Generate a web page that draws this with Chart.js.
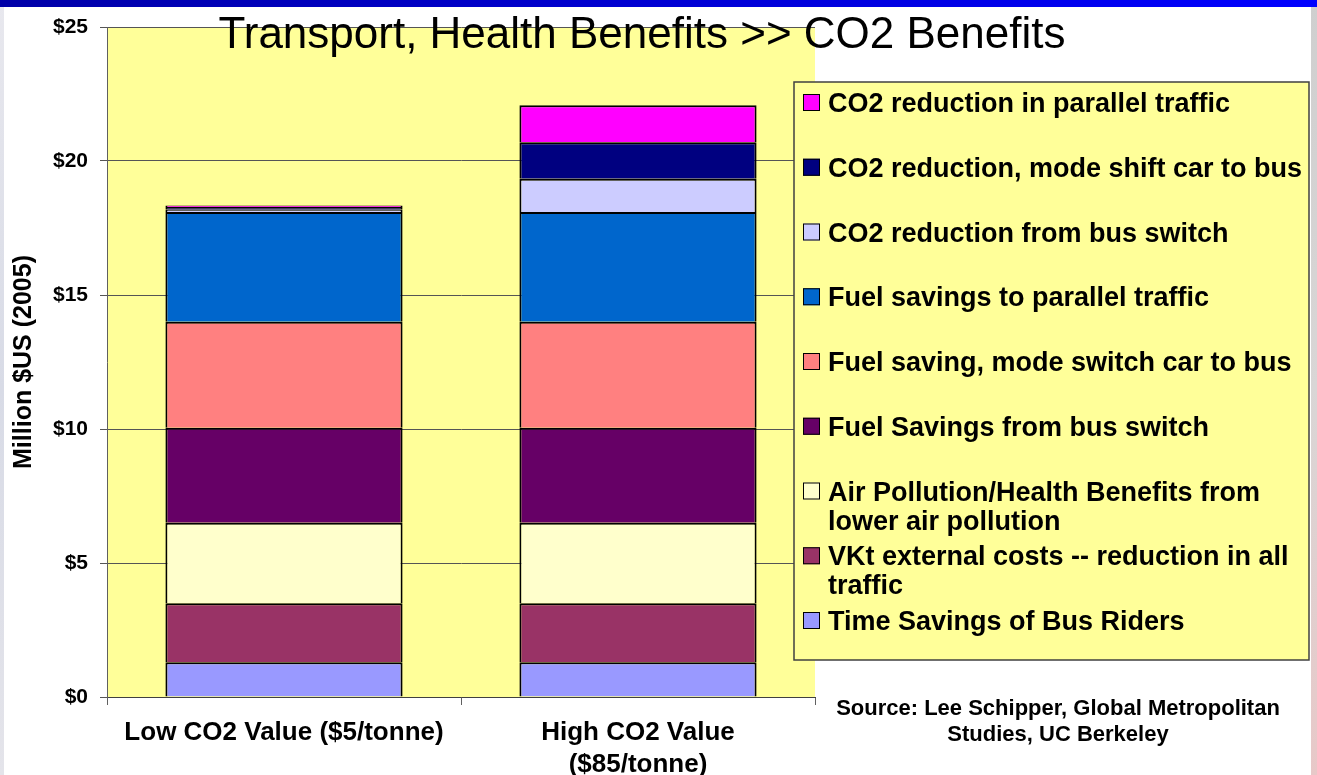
<!DOCTYPE html>
<html>
<head>
<meta charset="utf-8">
<script src="https://cdn.jsdelivr.net/npm/chart.js@4.4.1/dist/chart.umd.min.js"></script>
<style>
  html, body { margin: 0; padding: 0; background: #fff; }
  #wrap { width: 1317px; height: 775px; position: relative; }
</style>
</head>
<body>
<div id="wrap"><canvas id="myChart"></canvas></div>
<script>
// categories (x axis)
const categories = [["Low CO2 Value ($5/tonne)"], ["High CO2 Value", "($85/tonne)"]];

// series, bottom of the stack first
const seriesNames = [
  "Time Savings of Bus Riders",
  "VKt external costs -- reduction in all traffic",
  "Air Pollution/Health Benefits from lower air pollution",
  "Fuel Savings from bus switch",
  "Fuel saving, mode switch car to bus",
  "Fuel savings to parallel traffic",
  "CO2 reduction from bus switch",
  "CO2 reduction, mode shift car to bus",
  "CO2 reduction in parallel traffic"
];
const timeSavings      = [1.3, 1.3];
const vktCosts         = [2.2, 2.2];
const airPollution     = [3.0, 3.0];
const fuelBusSwitch    = [3.55, 3.55];
const fuelModeSwitch   = [3.95, 3.95];
const fuelParallel     = [4.1, 4.1];
const co2BusSwitch     = [0.08, 1.24];
const co2ModeShift     = [0.1, 1.36];
const co2Parallel      = [0.06, 1.38];
const seriesValues = [timeSavings, vktCosts, airPollution, fuelBusSwitch, fuelModeSwitch,
                      fuelParallel, co2BusSwitch, co2ModeShift, co2Parallel];
const seriesColors = ["#9999ff", "#993366", "#ffffcc", "#660066", "#ff8080",
                      "#0066cc", "#ccccff", "#000080", "#ff00ff"];

const yTickLabels = ["$0", "$5", "$10", "$15", "$20", "$25"];
const yTitle = "Million $US (2005)";
const chartTitle = "Transport, Health Benefits >> CO2 Benefits";
const sourceLines = ["Source: Lee Schipper, Global Metropolitan", "Studies, UC Berkeley"];

const FONT = '"Liberation Sans", Arial, sans-serif';

// slide background, yellow plot area, title, legend box, source note
const slidePlugin = {
  id: 'slide',
  beforeDraw(chart) {
    const c = chart.ctx, a = chart.chartArea;
    c.save();
    c.fillStyle = '#fff';
    c.fillRect(0, 0, chart.width, chart.height);
    // blue band on top
    let g = c.createLinearGradient(0, 0, chart.width, 0);
    g.addColorStop(0, '#0000a8');
    g.addColorStop(1, '#0000ff');
    c.fillStyle = g;
    c.fillRect(0, 0, chart.width, 7);
    // edges
    g = c.createLinearGradient(0, 0, 0, chart.height);
    g.addColorStop(0, '#e8e8ee');
    g.addColorStop(0.5, '#d8dbe6');
    g.addColorStop(1, '#e4e4ea');
    c.fillStyle = g;
    c.fillRect(0, 7, 4, chart.height);
    g = c.createLinearGradient(0, 0, 0, chart.height);
    g.addColorStop(0, '#cfcfcf');
    g.addColorStop(0.5, '#d9d6d6');
    g.addColorStop(1, '#e8c8c8');
    c.fillStyle = g;
    c.fillRect(1311, 7, 6, chart.height);
    // plot area
    c.fillStyle = '#ffff99';
    c.fillRect(a.left, a.top, a.right - a.left, a.bottom - a.top);
    c.restore();
  },
  afterDraw(chart) {
    const c = chart.ctx;
    c.save();
    // title
    c.fillStyle = '#000';
    c.font = '44px ' + FONT;
    c.textAlign = 'center';
    c.textBaseline = 'alphabetic';
    c.fillText(chartTitle, 642, 48);

    // legend
    const bx = 794, by = 82, bw = 515, bh = 578;
    c.fillStyle = '#ffff99';
    c.fillRect(bx, by, bw, bh);
    c.strokeStyle = '#404040';
    c.lineWidth = 1.5;
    c.strokeRect(bx, by, bw, bh);
    c.font = 'bold 27px ' + FONT;
    c.textAlign = 'left';
    const sets = chart.data.datasets.slice().reverse();
    sets.forEach((ds, i) => {
      const base = 112 + i * 64.75;
      c.fillStyle = ds.backgroundColor;
      c.fillRect(803, base - 18, 17, 17);
      c.strokeStyle = '#000';
      c.lineWidth = 1;
      c.strokeRect(803.5, base - 17.5, 16, 16);
      // wrap
      const words = ds.label.split(' ');
      const lines = [];
      let cur = '';
      words.forEach(w => {
        const t = cur ? cur + ' ' + w : w;
        if (c.measureText(t).width > 480 && cur) { lines.push(cur); cur = w; }
        else cur = t;
      });
      lines.push(cur);
      c.fillStyle = '#000';
      lines.forEach((ln, k) => c.fillText(ln, 828, base + k * 29));
    });

    // source note
    c.font = 'bold 22px ' + FONT;
    c.textAlign = 'center';
    c.fillText(sourceLines[0], 1058, 715);
    c.fillText(sourceLines[1], 1058, 741);
    c.restore();
  }
};

const ctx = document.getElementById('myChart');
const chart = new Chart(ctx, {
  type: 'bar',
  data: {
    labels: categories,
    datasets: seriesNames.map((name, i) => ({
      label: name,
      data: seriesValues[i],
      backgroundColor: seriesColors[i],
      borderColor: '#000',
      borderWidth: 2,
      barPercentage: 0.67,
      categoryPercentage: 1
    }))
  },
  options: {
    responsive: true,
    maintainAspectRatio: false,
    animation: false,
    layout: { padding: { top: 27, right: 502, bottom: 0, left: 0 } },
    plugins: { legend: { display: false }, tooltip: { enabled: false } },
    scales: {
      x: {
        stacked: true,
        grid: { display: true, drawOnChartArea: false, drawTicks: true, tickLength: 8, color: '#606060', offset: true },
        border: { display: true, color: '#404040', width: 1 },
        ticks: {
          color: '#000',
          font: { family: FONT, size: 26, weight: 'bold', lineHeight: 1.23 },
          padding: 12, maxRotation: 0, autoSkip: false
        },
        afterFit: s => { s.height = 78; }
      },
      y: {
        stacked: true,
        min: 0, max: 25,
        ticks: {
          stepSize: 5,
          color: '#000',
          font: { family: FONT, size: 21, weight: 'bold' },
          padding: 12,
          callback: (v) => yTickLabels[v / 5]
        },
        grid: { color: '#555', tickLength: 7, drawTicks: true },
        border: { color: '#606060' },
        title: {
          display: true, text: yTitle, color: '#000',
          font: { family: FONT, size: 25, weight: 'bold' },
          padding: { top: 9, bottom: 0 }
        },
        afterFit: s => { s.width = 107; }
      }
    }
  },
  plugins: [slidePlugin]
});
</script>
</body>
</html>
